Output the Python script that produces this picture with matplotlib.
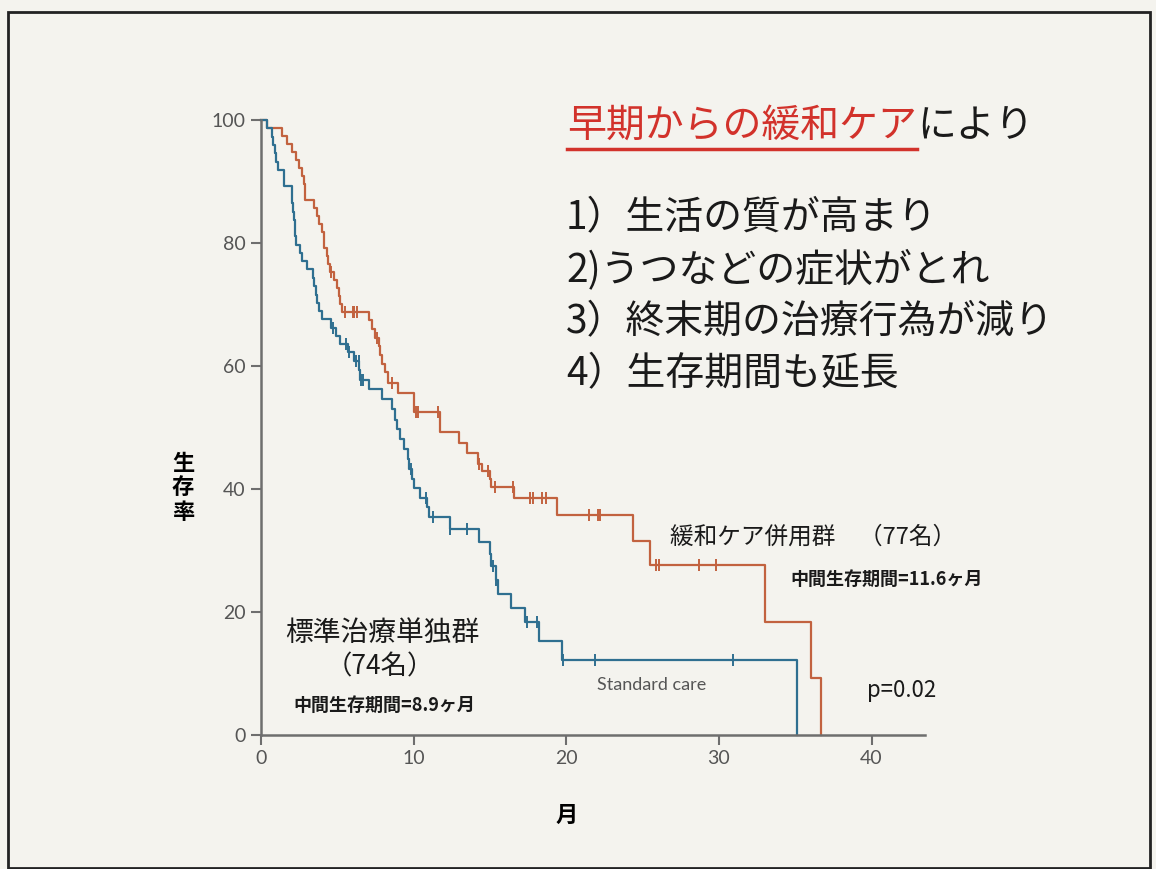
"""
Kaplan-Meier curves: early palliative care vs standard care (slide recreation).
"""

import numpy as np
import matplotlib.pyplot as plt
from matplotlib.patches import Rectangle
from matplotlib.lines import Line2D

plt.rcParams["font.family"] = ["Noto Sans CJK JP", "DejaVu Sans"]

# palliative care group (77) - step vertices: time (months), survival (%) after the step
palliative_t = [0, 0.4, 1.4, 1.7, 2.0, 2.3, 2.5, 2.7, 2.8, 2.9, 3.5, 3.7, 3.8, 4.0, 4.1,
                4.3, 4.4, 4.5, 4.8, 5.0, 5.1, 5.2, 5.3, 7.1, 7.3, 7.5, 7.7, 7.8, 7.9,
                8.1, 8.3, 9.0, 10.0, 11.7, 13.0, 13.5, 14.2, 14.5, 15.0, 15.1, 16.6,
                19.4, 24.4, 25.5, 33.0, 36.0, 36.7]
palliative_s = [100, 98.7, 97.4, 96.1, 94.8, 93.5, 92.2, 90.9, 89.6, 87.0, 85.7, 84.4,
                83.1, 81.8, 79.2, 77.9, 76.6, 75.3, 74.0, 72.7, 71.4, 70.1, 68.8, 67.4,
                66.0, 64.6, 63.2, 61.8, 60.4, 59.0, 57.2, 55.6, 52.5, 49.2, 47.5, 45.8,
                44.0, 42.9, 41.6, 40.4, 38.6, 35.7, 31.6, 27.6, 18.4, 9.2, 0]
palliative_cens = [4.6, 5.5, 6.0, 6.1, 6.3, 7.6, 8.6, 10.15, 10.3, 11.6, 14.3, 14.9,
                   15.3, 16.5, 17.6, 17.8, 18.4, 18.7, 21.5, 22.1, 22.2, 25.9, 26.1,
                   28.7, 29.8]

# standard care group (74)
standard_t = [0, 0.4, 0.7, 0.8, 0.9, 1.0, 1.1, 1.5, 2.0, 2.05, 2.1, 2.15, 2.2, 2.25,
              2.3, 2.55, 2.7, 3.0, 3.4, 3.5, 3.6, 3.7, 3.8, 4.0, 4.6, 4.9, 5.2, 5.7,
              6.1, 6.45, 6.5, 7.1, 7.9, 8.55, 8.8, 8.9, 9.1, 9.4, 9.6, 9.7, 9.9, 10.0,
              10.4, 10.9, 11.0, 12.4, 14.3, 15.0, 15.1, 15.4, 15.5, 16.35, 17.3,
              18.2, 19.7, 35.1]
standard_s = [100, 98.7, 97.3, 95.9, 94.6, 93.2, 91.9, 89.2, 87.8, 86.5, 85.1, 83.8,
              82.4, 81.1, 79.7, 78.4, 77.0, 75.7, 74.3, 73.0, 71.6, 70.3, 68.9, 67.6,
              66.2, 64.9, 63.5, 62.2, 60.8, 59.3, 57.8, 56.2, 54.6, 53.0, 51.3, 49.7,
              48.1, 46.5, 44.9, 43.3, 41.7, 40.1, 38.6, 37.0, 35.4, 33.5, 31.4, 29.4,
              27.5, 25.2, 22.9, 20.6, 18.4, 15.3, 12.2, 0]
standard_cens = [4.7, 5.6, 5.75, 6.2, 6.4, 6.55, 6.65, 9.8, 10.8, 11.3, 12.4, 13.5,
                 15.2, 15.4, 17.4, 18.05, 19.8, 21.9, 30.9]

xticks = [0, 10, 20, 30, 40]
yticks = [0, 20, 40, 60, 80, 100]

ORANGE = "#c2623f"
BLUE = "#2f6f90"
W, H = 1156, 869


def surv_at(t_steps, s_steps, t):
    """Survival value of a step curve at time t."""
    i = np.searchsorted(t_steps, t, side="right") - 1
    return np.asarray(s_steps)[i]


def fx(px):
    return px / W


def fy(py):
    return 1 - py / H


fig = plt.figure(figsize=(W / 100, H / 100), dpi=100, facecolor="#f4f3ee")
fig.patches.append(Rectangle((fx(8), fy(868)), fx(1142), 856 / H, transform=fig.transFigure,
                             fill=False, edgecolor="#222222", linewidth=2))

ax = fig.add_axes([fx(261), fy(735), fx(925 - 261), 615 / H])
ax.set_facecolor("none")
ax.set_xlim(0, 43.5)
ax.set_ylim(0, 100)

for t, s, cens, col in [(palliative_t, palliative_s, palliative_cens, ORANGE),
                        (standard_t, standard_s, standard_cens, BLUE)]:
    ax.plot(t, s, drawstyle="steps-post", color=col, lw=1.6, clip_on=False)
    ax.plot(cens, surv_at(t, s, cens), ls="none", marker="|", ms=9, mew=1.4,
            color=col, clip_on=False)

for side in ["top", "right"]:
    ax.spines[side].set_visible(False)
for side in ["left", "bottom"]:
    ax.spines[side].set_color("#6e6e6e")
    ax.spines[side].set_linewidth(1.8)
ax.set_xticks(xticks)
ax.set_yticks(yticks)
ax.tick_params(direction="out", length=7, width=1.5, color="#6e6e6e",
               labelsize=14, labelcolor="#555555", pad=4)
for lab in ax.get_xticklabels() + ax.get_yticklabels():
    lab.set_family(["Lato", "DejaVu Sans"])

# axis labels
fig.text(fx(183), fy(488), "生\n存\n率", ha="center", va="center", fontsize=16,
         fontweight="bold", linespacing=1.1)
fig.text(fx(567), fy(815), "月", ha="center", va="center", fontsize=16, fontweight="bold")

# headline with underlined red part
t1 = fig.text(fx(567), fy(126), "早期からの緩和ケア", ha="left", va="center",
              fontsize=28, color="#d2322b")
fig.canvas.draw()
bb = t1.get_window_extent()
fig.add_artist(Line2D([bb.x0 / W, bb.x1 / W], [fy(149), fy(149)], color="#d2322b",
                      lw=2.5, transform=fig.transFigure))
fig.text(bb.x1 / W, fy(126), "により", ha="left", va="center", fontsize=28, color="#1a1a1a")

items = ["1）生活の質が高まり", "2)うつなどの症状がとれ", "3）終末期の治療行為が減り",
         "4）生存期間も延長"]
for k, line in enumerate(items):
    fig.text(fx(566), fy(218 + 52 * k), line, ha="left", va="center", fontsize=28,
             color="#1a1a1a")

# group annotations
fig.text(fx(670), fy(537), "緩和ケア併用群　（77名）", ha="left", va="center", fontsize=17,
         color="#1a1a1a")
fig.text(fx(790), fy(579), "中間生存期間=11.6ヶ月", ha="left", va="center", fontsize=13,
         fontweight="bold", color="#1a1a1a")
fig.text(fx(382), fy(633), "標準治療単独群", ha="center", va="center", fontsize=20,
         color="#1a1a1a")
fig.text(fx(380), fy(667), "（74名）", ha="center", va="center", fontsize=19,
         color="#1a1a1a")
fig.text(fx(293), fy(705), "中間生存期間=8.9ヶ月", ha="left", va="center", fontsize=13,
         fontweight="bold", color="#1a1a1a")
fig.text(fx(597), fy(685), "Standard care", ha="left", va="center", fontsize=13,
         color="#555555", family=["Lato", "DejaVu Sans"])
fig.text(fx(867), fy(690), "p=0.02", ha="left", va="center", fontsize=16, color="#1a1a1a")

fig.savefig("out.png", dpi=100, facecolor=fig.get_facecolor())
